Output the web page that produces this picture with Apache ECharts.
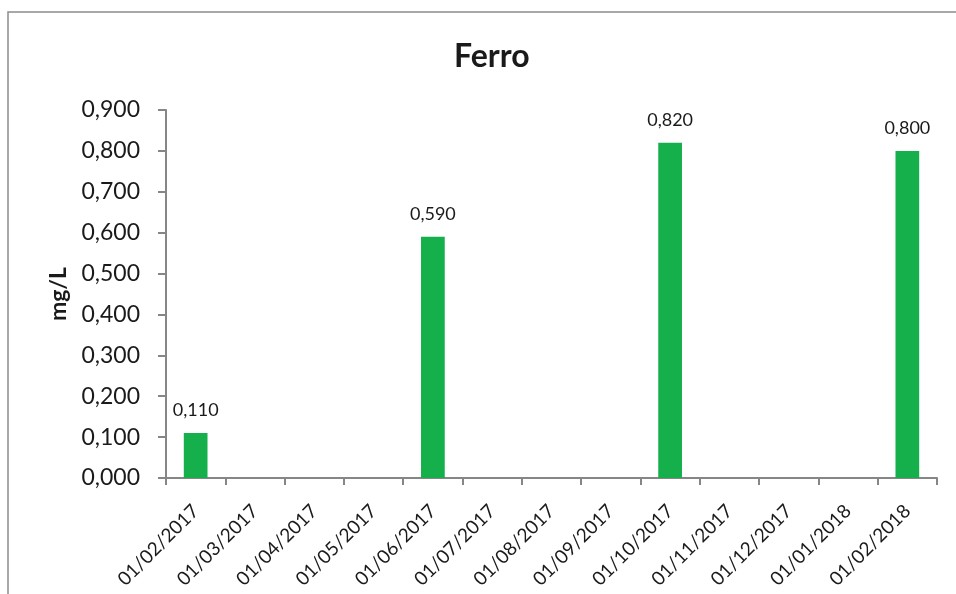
<!DOCTYPE html>
<html>
<head>
<meta charset="utf-8">
<script src="https://cdn.jsdelivr.net/npm/echarts@6/dist/echarts.min.js"></script>
<style>
  html, body { margin: 0; padding: 0; background: #fff; }
  #chart { width: 956px; height: 594px; }
</style>
</head>
<body>
<div id="chart"></div>
<script>
// Monthly sampling dates
const categories = [
  '01/02/2017', '01/03/2017', '01/04/2017', '01/05/2017', '01/06/2017',
  '01/07/2017', '01/08/2017', '01/09/2017', '01/10/2017', '01/11/2017',
  '01/12/2017', '01/01/2018', '01/02/2018'
];
// Iron concentration (mg/L); null where no sample was taken
const ferro = [0.110, null, null, null, 0.590, null, null, null, 0.820, null, null, null, 0.800];
// Value axis range
const yMin = 0;
const yMax = 0.9;
const yStep = 0.1;

const FONT = 'Lato, "Liberation Sans", sans-serif';
const fmt = v => v.toFixed(3).replace('.', ',');

const chart = echarts.init(document.getElementById('chart'), null, { renderer: 'canvas' });

chart.setOption({
  animation: false,
  backgroundColor: '#ffffff',
  graphic: [{
    type: 'rect',
    shape: { x: 8, y: 12, width: 960, height: 600 },
    style: { fill: 'none', stroke: '#8c8c8c', lineWidth: 1.5 },
    silent: true
  }],
  title: {
    text: 'Ferro',
    left: 449,
    top: 36,
    textStyle: { fontFamily: FONT, fontSize: 32, fontWeight: 'bold', color: '#1a1a1a' }
  },
  grid: { left: 166, right: 19, top: 110, bottom: 116 },
  xAxis: {
    type: 'category',
    data: categories,
    axisLine: { lineStyle: { color: '#868686', width: 2 } },
    axisTick: { show: true, alignWithLabel: false, length: 7, lineStyle: { color: '#868686', width: 2 } },
    axisLabel: {
      rotate: 45,
      interval: 0,
      margin: 30,
      fontFamily: FONT,
      fontSize: 19,
      color: '#1a1a1a'
    }
  },
  yAxis: {
    type: 'value',
    min: yMin,
    max: yMax,
    interval: yStep,
    name: 'mg/L',
    nameLocation: 'middle',
    nameGap: 93,
    nameRotate: 90,
    nameTextStyle: { fontFamily: FONT, fontSize: 23, fontWeight: 'bold', color: '#1a1a1a' },
    splitLine: { show: false },
    axisLine: { show: true, lineStyle: { color: '#868686', width: 2 } },
    axisTick: { show: true, length: 8, lineStyle: { color: '#868686', width: 2 } },
    axisLabel: {
      margin: 26,
      formatter: fmt,
      fontFamily: FONT,
      fontSize: 23,
      color: '#1a1a1a'
    }
  },
  series: [{
    type: 'bar',
    data: ferro,
    barWidth: '40%',
    itemStyle: { color: '#15b04c' },
    label: {
      show: true,
      position: 'top',
      distance: 14,
      formatter: p => fmt(p.value),
      fontFamily: FONT,
      fontSize: 18,
      color: '#1a1a1a'
    }
  }]
});
</script>
</body>
</html>
